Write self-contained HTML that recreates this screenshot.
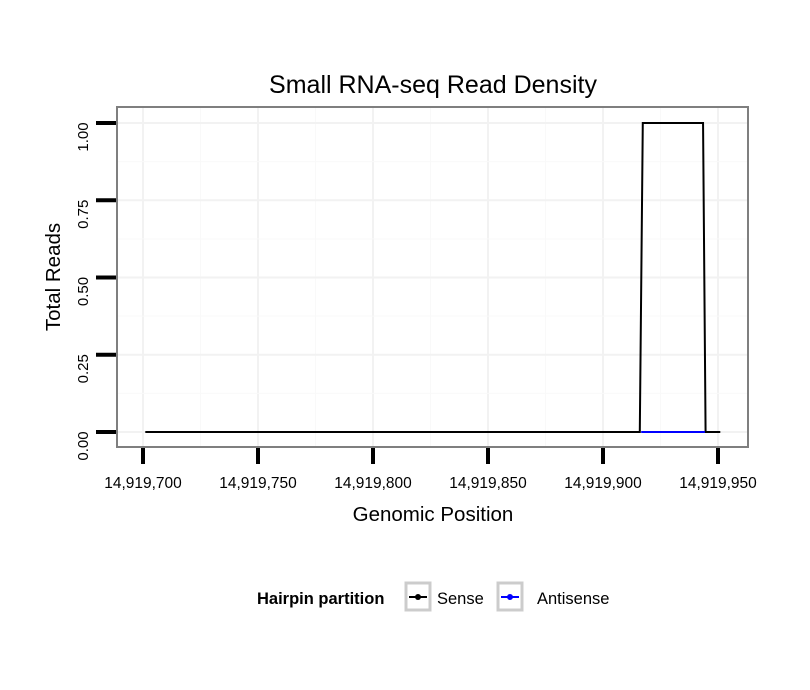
<!DOCTYPE html>
<html><head><meta charset="utf-8"><style>body{margin:0;background:#fff}svg{display:block;font-family:"Liberation Sans",sans-serif}</style></head>
<body>
<svg id="c" width="810" height="690"></svg>
<script>
const xTicks=[14919700,14919750,14919800,14919850,14919900,14919950];
const xTickLabels=["14,919,700","14,919,750","14,919,800","14,919,850","14,919,900","14,919,950"];
const yTicks=[0,0.25,0.5,0.75,1];
const yTickLabels=["0.00","0.25","0.50","0.75","1.00"];
const senseX=[14919701,14919916,14919917.3,14919943.5,14919944.6,14919951];
const senseY=[0,0,1,1,0,0];
const antiX=[14919916.6,14919944.3];
const antiY=[0,0];
const NS="http://www.w3.org/2000/svg",svg=document.getElementById('c');
const X=v=>143+(v-14919700)*2.3, Y=v=>432-v*309;
function el(t,a,p){const e=document.createElementNS(NS,t);for(const k in a)e.setAttribute(k,a[k]);(p||svg).appendChild(e);return e;}
const L=117,R=748,T=107,B=447;
let bg=el('rect',{x:L,y:T,width:R-L,height:B-T,fill:'#fff'});


for(let i=0;i<xTicks.length;i++){
 let g=el('line',{x1:X(xTicks[i]),x2:X(xTicks[i]),y1:T,y2:B,stroke:'#f2f2f2','stroke-width':2});
 
 
 if(i<xTicks.length-1){let m=(xTicks[i]+xTicks[i+1])/2;let g2=el('line',{x1:X(m),x2:X(m),y1:T,y2:B,stroke:'#f9f9f9','stroke-width':1});
 
 }
}
for(let i=0;i<yTicks.length;i++){
 let g=el('line',{x1:L,x2:R,y1:Y(yTicks[i]),y2:Y(yTicks[i]),stroke:'#f2f2f2','stroke-width':2});
 
 
 if(i<yTicks.length-1){let m=(yTicks[i]+yTicks[i+1])/2;let g2=el('line',{x1:L,x2:R,y1:Y(m),y2:Y(m),stroke:'#f9f9f9','stroke-width':1});
 
 }
}
let sp=el('polyline',{points:senseX.map((v,i)=>X(v)+','+Y(senseY[i])).join(' '),fill:'none',stroke:'#000','stroke-width':2});


let ap=el('polyline',{points:antiX.map((v,i)=>X(v)+','+Y(antiY[i])).join(' '),fill:'none',stroke:'#0000ff','stroke-width':2});


let br=el('rect',{x:L,y:T,width:R-L,height:B-T,fill:'none',stroke:'#7f7f7f','stroke-width':2});


xTicks.forEach((v,i)=>{
 let t=el('line',{x1:X(v),x2:X(v),y1:B+1,y2:B+17,stroke:'#000','stroke-width':4});
 
 
 let l=el('text',{x:X(v),y:488,'text-anchor':'middle','font-size':15.5});l.textContent=xTickLabels[i];
 
 
});
yTicks.forEach((v,i)=>{
 let t=el('line',{x1:L-21,x2:L-1,y1:Y(v),y2:Y(v),stroke:'#000','stroke-width':4});
 
 
 let l=el('text',{x:0,y:0,'text-anchor':'middle','font-size':15,transform:`translate(88,${Y(v)+14}) rotate(-90)`});l.textContent=yTickLabels[i];
 
 
});
let tt=el('text',{x:433,y:93,'text-anchor':'middle','font-size':25});tt.textContent='Small RNA-seq Read Density';


let xt=el('text',{x:433,y:521,'text-anchor':'middle','font-size':20.5});xt.textContent='Genomic Position';


let yt=el('text',{x:0,y:0,'text-anchor':'middle','font-size':20.5,transform:'translate(60,277) rotate(-90)'});yt.textContent='Total Reads';


let lt=el('text',{x:257,y:604,'font-size':16.5,'font-weight':'bold'});lt.textContent='Hairpin partition';


[[405,'#000','Sense',437],[497,'#0000ff','Antisense',537]].forEach(([x,c,n,tx])=>{
 let g=el('g',{});
 
 
 el('rect',{x:x+1,y:583,width:24,height:27,fill:'#fff',stroke:'#cccccc','stroke-width':3},g);
 el('line',{x1:x+4,x2:x+22,y1:597,y2:597,stroke:c,'stroke-width':2},g);
 el('circle',{cx:x+13,cy:597,r:3,fill:c},g);
 let t=el('text',{x:tx,y:604,'font-size':16.5},g);t.textContent=n;
});
</script>
</body></html>
